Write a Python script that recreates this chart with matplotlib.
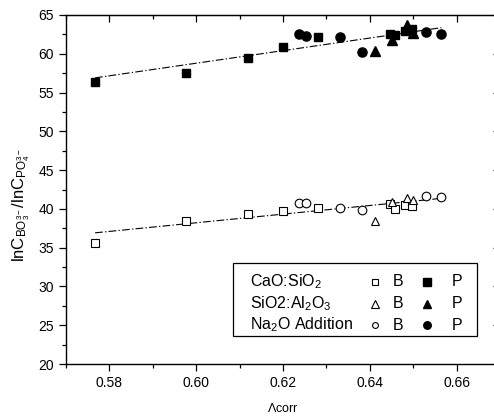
import numpy as np
import matplotlib.pyplot as plt
from matplotlib.patches import Rectangle

plt.rcParams['font.family'] = ['Liberation Sans', 'DejaVu Sans']
plt.rcParams['mathtext.fontset'] = 'custom'
plt.rcParams['mathtext.rm'] = 'Liberation Sans'
plt.rcParams['mathtext.it'] = 'Liberation Sans'
plt.rcParams['mathtext.bf'] = 'Liberation Sans:bold'

# CaO:SiO2 series
cs_x = [0.5767, 0.5977, 0.6119, 0.6200, 0.6280, 0.6446, 0.6459, 0.6482, 0.6498]
cs_b = [35.6, 38.5, 39.4, 39.7, 40.1, 40.6, 40.0, 40.5, 40.4]
cs_p = [56.4, 57.5, 59.5, 60.9, 62.1, 62.5, 62.4, 63.0, 63.2]

# SiO2:Al2O3 series
sa_x = [0.6412, 0.6450, 0.6486, 0.6500]
sa_b = [38.5, 40.9, 41.4, 41.2]
sa_p = [60.3, 61.8, 63.7, 62.7]

# Na2O addition series
na_x = [0.6236, 0.6252, 0.6332, 0.6383, 0.6530, 0.6565]
na_b = [40.8, 40.8, 40.1, 39.9, 41.6, 41.5]
na_p = [62.5, 62.3, 62.2, 60.2, 62.8, 62.6]

W, H = 494, 418
fig = plt.figure(figsize=(W / 100, H / 100), dpi=100)
ax = fig.add_axes([66 / W, 1 - 364 / H, (500 - 66) / W, (364 - 15) / H])

ms_f = 6.2
ms_o = 5.6
ax.plot(cs_x, cs_p, 's', color='black', ms=ms_f, zorder=3)
ax.plot(sa_x, sa_p, '^', color='black', ms=ms_f + 0.6, zorder=3)
ax.plot(na_x, na_p, 'o', color='black', ms=ms_f + 0.4, zorder=3)
ax.plot(cs_x, cs_b, 's', mfc='white', mec='black', mew=0.8, ms=ms_o, zorder=3)
ax.plot(sa_x, sa_b, '^', mfc='white', mec='black', mew=0.8, ms=ms_o + 0.8, zorder=3)
ax.plot(na_x, na_b, 'o', mfc='white', mec='black', mew=0.8, ms=ms_o + 0.6, zorder=3)

# linear fits through all B and all P points
all_x = np.array(cs_x + sa_x + na_x)
for vals in (cs_b + sa_b + na_b, cs_p + sa_p + na_p):
    k, b = np.polyfit(all_x, np.array(vals), 1)
    xx = np.array([all_x.min(), all_x.max()])
    ax.plot(xx, k * xx + b, color='black', lw=0.8,
            linestyle=(0, (7, 2, 1.2, 2)), zorder=2)

ax.set_xlim(0.57, 0.67)
ax.set_ylim(20, 65)
xmaj = [0.58, 0.60, 0.62, 0.64, 0.66]
xmin = np.arange(0.57, 0.671, 0.01)
ymaj = np.arange(20, 66, 5)
ymin = np.arange(22.5, 65, 5)
ax.set_xticks(xmaj)
ax.set_xticks(xmin, minor=True)
ax.set_yticks(ymaj)
ax.set_yticks(ymin, minor=True)
ax.tick_params(which='both', direction='out', labelsize=10, width=0.9)
ax.tick_params(which='major', length=5)
ax.tick_params(which='minor', length=3)

# inward ticks on the top and right frame
top = ax.secondary_xaxis('top')
top.set_xticks(xmaj)
top.set_xticks(xmin, minor=True)
right = ax.secondary_yaxis('right')
right.set_yticks(ymaj)
right.set_yticks(ymin, minor=True)
for sec in (top, right):
    sec.tick_params(which='both', direction='in', width=0.9,
                    labeltop=False, labelright=False)
    sec.tick_params(which='major', length=5)
    sec.tick_params(which='minor', length=3)
for sp in ax.spines.values():
    sp.set_linewidth(1.0)

ax.set_xlabel(r'$\Lambda$corr', fontsize=9, labelpad=9)
ax.set_ylabel(r'lnC$_{\mathrm{BO}_3^{3-}}$/lnC$_{\mathrm{PO}_4^{3-}}$', fontsize=12)
ax.yaxis.set_label_coords(-0.078, 0.455)

# legend table
def fx(px):
    return px / W

def fy(py):
    return 1 - py / H

fig.patches.append(Rectangle((fx(233), fy(336)), fx(477) - fx(233), fy(263) - fy(336),
                             transform=fig.transFigure, fill=False, lw=0.9,
                             edgecolor='black'))
rows = [(282, r'CaO:SiO$_2$', 's', 4.2, 5.2),
        (304, r'SiO2:Al$_2$O$_3$', '^', 5.6, 6.0),
        (325, r'Na$_2$O Addition', 'o', 4.2, 5.4)]
for py, label, m, so, sf in rows:
    fig.text(fx(250), fy(py), label, fontsize=11.5, va='center', ha='left')
    fig.text(fx(398), fy(py), 'B', fontsize=11.5, va='center', ha='center')
    fig.text(fx(457), fy(py), 'P', fontsize=11.5, va='center', ha='center')
    fig.lines.append(plt.Line2D([fx(375)], [fy(py)], marker=m, mfc='white', mec='black',
                                mew=0.8, ms=so, transform=fig.transFigure))
    fig.lines.append(plt.Line2D([fx(427)], [fy(py)], marker=m, color='black',
                                ms=sf, transform=fig.transFigure))

fig.savefig('out.png', dpi=100)
